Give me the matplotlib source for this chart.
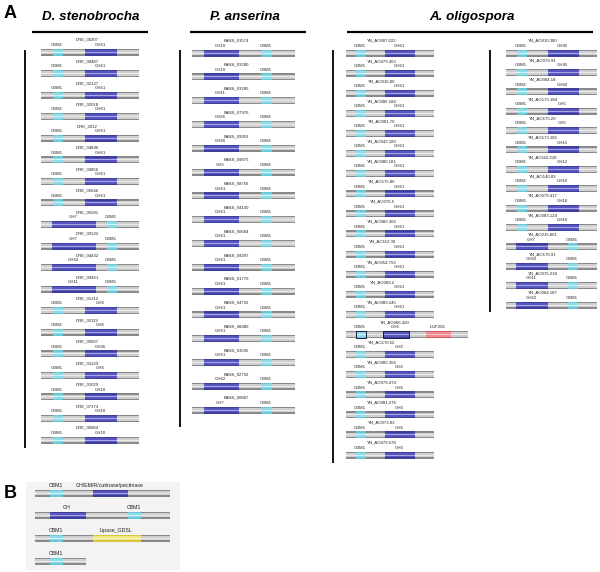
import numpy as np
import matplotlib
matplotlib.use('Agg')
import matplotlib.pyplot as plt
from matplotlib.patches import Rectangle

plt.rcParams['font.family'] = ['Liberation Sans', 'DejaVu Sans']

# ---- data ----
ds_names = ['DRE_00207', 'DRE_00487', 'DRE_02127', 'DRE_02018', 'DRE_2012',
            'DRE_04896', 'DRE_04856', 'DRE_05646', 'DRE_05281', 'DRE_09122',
            'DRE_04432', 'DRE_09461', 'DRE_01212', 'DRE_05119', 'DRE_05607',
            'DRE_01229', 'DRE_01029', 'DRE_07273', 'DRE_00084']
ds_gh = ['GH61'] * 8 + ['GH7', 'GH7', 'GH62', 'GH11'] + \
        ['GH6', 'GH6', 'GH45', 'GH6', 'GH10', 'GH10', 'GH10']
ds_order = ['cbm'] * 8 + ['gh'] * 4 + ['cbm'] * 7

pa_names = ['PANS_01574', 'PANS_03280', 'PANS_03285', 'PANS_07976', 'PANS_09853',
            'PANS_09875', 'PANS_08756', 'PANS_04130', 'PANS_00684', 'PANS_09287',
            'PANS_01776', 'PANS_04756', 'PANS_08480', 'PANS_03595', 'PANS_02750',
            'PANS_00887']
pa_gh = ['GH10', 'GH10', 'GH11', 'GH55', 'GH65', 'GH5'] + ['GH61'] * 8 + ['GH62', 'GH7']
pa_order = ['gh'] * 16

aol_names = ['YN_AO007.022', 'YN_AO079.453', 'YN_AO016.80', 'YN_AO006.184',
             'YN_AO081.70', 'YN_AO043.180', 'YN_AO080.181', 'YN_AO175.86',
             'YN_AO076.5', 'YN_AO083.366', 'YN_AO113.30', 'YN_AO054.759',
             'YN_AO083.2', 'YN_AO089.245', 'YN_AO066.420', 'YN_AO170.52',
             'YN_AO082.366', 'YN_AO079.474', 'YN_AO081.276', 'YN_AO073.83',
             'YN_AO079.578']
aol_gh = ['GH61'] * 14 + ['GH6'] * 7
aol_order = ['cbm'] * 14 + ['duf'] + ['cbm'] * 6

aor_names = ['YN_AO010.380', 'YN_AO079.91', 'YN_AO004.18', 'YN_AO173.184',
             'YN_AO175.29', 'YN_AO173.185', 'YN_AO110.218', 'YN_AO140.83',
             'YN_AO079.417', 'YN_AO083.124', 'YN_AO215.801', 'YN_AO170.91',
             'YN_AO076.218', 'YN_AO064.187']
aor_gh = ['GH45', 'GH45', 'GH60', 'GH5', 'GH5', 'GH15', 'GH12', 'GH10', 'GH10',
          'GH10', 'GH7', 'GH62', 'GH11', 'GH62']
aor_order = ['cbm'] * 10 + ['gh'] * 4

titles = ['D. stenobrocha', 'P. anserina', 'A. oligospora']

b_labels = [['CBM1', 'GH/EM/R/cutinase/pectinase'], ['GH', 'CBM1'],
            ['CBM1', 'Lipase_GDSL'], ['CBM1']]
b_kinds = [['cbm', 'gh'], ['gh', 'cbm'], ['cbm', 'lip'], ['cbm']]

# ---- styles ----
COL = {
    'bar': ('#8a8a8a', '#cfcfcf', '#eaeaea'),
    'gh': ('#3e3e9e', '#5656bc', '#a8a8e6'),
    'cbm': ('#6cc8d6', '#90dce8', '#cdf2f7'),
    'duf': ('#d85a62', '#ee8a92', '#f8c4c8'),
    'lip': ('#d8c83a', '#f0e682', '#faf6c8'),
}
H = 7.0
FS = 3.1

fig = plt.figure(figsize=(6.0, 5.72), dpi=100)
ax = fig.add_axes([0, 0, 1, 1])
ax.set_xlim(0, 600)
ax.set_ylim(572, 0)
ax.axis('off')


def tube(x0, x1, y, kind, z, edge=None):
    c = COL[kind]
    ax.add_patch(Rectangle((x0, y - H / 2), x1 - x0, H, fc=c[0], ec='none', zorder=z))
    ax.add_patch(Rectangle((x0, y - H / 2 + 1.3), x1 - x0, H - 2.6, fc=c[1], ec='none',
                           zorder=z + 0.1))
    ax.add_patch(Rectangle((x0, y - 0.5), x1 - x0, 1.0, fc=c[2], ec='none',
                           zorder=z + 0.2))
    if edge:
        ax.add_patch(Rectangle((x0, y - H / 2), x1 - x0, H, fc='none', ec=edge,
                               lw=0.7, zorder=z + 0.3))


def row(y, name, name_x, bar, doms, fs=FS, edge=None):
    tube(bar[0], bar[1], y, 'bar', 2)
    for lab, (a, b), kind in doms:
        tube(a, b, y, kind, 3, edge if kind != 'duf' else None)
        ax.text((a + b) / 2 - 1, y - 5.2, lab, fontsize=fs, ha='center', va='bottom',
                color='#222222')
    if name:
        ax.text(name_x, y - 10.2, name, fontsize=fs, ha='center', va='bottom',
                color='#222222')


# column geometry (pixels)
geo = {
    'ds': dict(bar=(41, 139), cbm=((53, 63), (85, 117)), gh=((52, 96), (107, 117)),
               ys=(52, 440), nx=87),
    'pa': dict(bar=(192, 295), gh=((204, 239), (261, 272)), ys=(53, 410), nx=236),
    'aol': dict(bar=(346, 434), cbm=((356, 366), (385, 415)), ys=(53, 455), nx=382),
    'aor': dict(bar=(506, 597), cbm=((517, 527), (548, 579)),
                gh=((516, 548), (568, 578)), ys=(53, 305), nx=543),
}

for key, names, ghs, order in [('ds', ds_names, ds_gh, ds_order),
                               ('pa', pa_names, pa_gh, pa_order),
                               ('aol', aol_names, aol_gh, aol_order),
                               ('aor', aor_names, aor_gh, aor_order)]:
    g = geo[key]
    ys = np.linspace(g['ys'][0], g['ys'][1], len(names))
    for y, nm, gh, o in zip(ys, names, ghs, order):
        if o == 'cbm':
            c, h = g['cbm']
            doms = [('CBM1', c, 'cbm'), (gh, h, 'gh')]
            row(y, nm, g['nx'], g['bar'], doms)
        elif o == 'gh':
            h, c = g['gh']
            doms = [(gh, h, 'gh'), ('CBM1', c, 'cbm')]
            row(y, nm, g['nx'], g['bar'], doms)
        else:
            doms = [('CBM1', (356, 366), 'cbm'), (gh, (383, 409), 'gh'),
                    ('DUF281', (426, 451), 'duf')]
            row(y, nm, 395, (346, 468), doms, edge='#1a1a3a')

# vertical separators
for x, y0, y1 in [(25, 50, 448), (180, 50, 427), (333, 50, 463), (490, 50, 312)]:
    ax.plot([x, x], [y0, y1], color='black', lw=1.3, solid_capstyle='butt')

# titles with underline
for t, cx, (u0, u1) in zip(titles, [91, 245, 472], [(32, 148), (190, 306), (347, 593)]):
    ax.text(cx, 17, t, fontsize=9.6, fontweight='bold', style='italic',
            ha='center', va='center')
    ax.plot([u0, u1], [32, 32], color='black', lw=1.6, solid_capstyle='butt')

ax.text(4, 14, 'A', fontsize=13, fontweight='bold', ha='left', va='center')
ax.text(4, 493, 'B', fontsize=13, fontweight='bold', ha='left', va='center')

# panel B
ax.add_patch(Rectangle((26, 482), 154, 88, fc='#f3f3f3', ec='none', zorder=1))
b_bars = [(35, 170), (35, 170), (35, 170), (35, 86)]
b_pos = {'cbm': [(50, 63), (128, 141), (50, 63), (50, 63)],
         'gh': [(93, 128), (50, 86)], 'lip': [(93, 141)]}
b_ys = [493, 515, 538, 561]
for i, (labs, kinds) in enumerate(zip(b_labels, b_kinds)):
    doms = []
    for lab, k in zip(labs, kinds):
        if k == 'cbm':
            span = b_pos['cbm'][i]
        elif k == 'gh':
            span = b_pos['gh'][0 if i == 0 else 1]
        else:
            span = b_pos['lip'][0]
        doms.append((lab, span, k))
    row(b_ys[i], None, 0, b_bars[i], doms, fs=3.8)

fig.savefig('out.png', dpi=100)
